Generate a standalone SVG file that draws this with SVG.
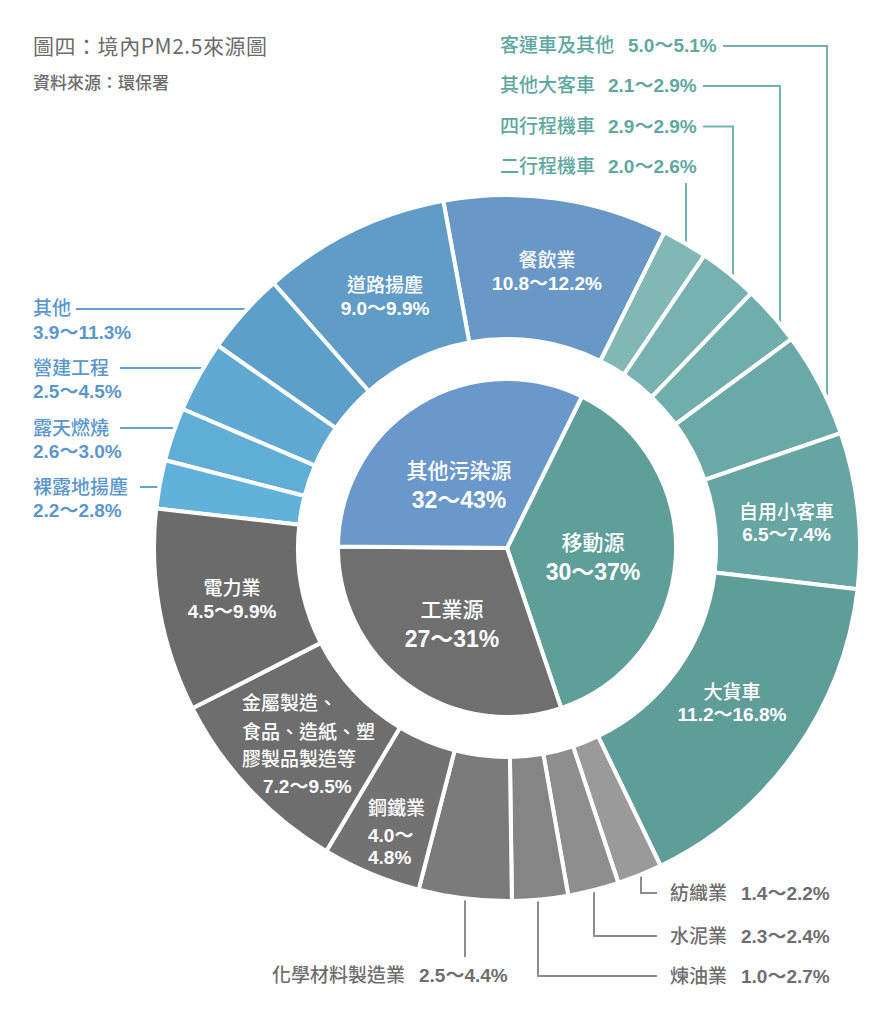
<svg xmlns="http://www.w3.org/2000/svg" width="890" height="1024" viewBox="0 0 890 1024">
<style>
  .seg { stroke: #ffffff; stroke-width: 4; stroke-linejoin: round; }
  .cjk { font-family: "Noto Sans CJK TC", "Noto Sans CJK SC", sans-serif; font-weight: 500; }
  .num { font-family: "Liberation Sans", "Noto Sans CJK TC", sans-serif; font-weight: 700; }
  .w { fill: #ffffff; font-size: 19px; }
  .teal { fill: #5fa8a1; font-size: 19px; }
  .blue { fill: #5b97cc; font-size: 19px; }
  .gray { fill: #6e6e6e; font-size: 19px; }
  .pc { fill: #ffffff; font-size: 21px; }
  .pn { fill: #ffffff; font-size: 23px; }
  .mid { text-anchor: middle; }
  .lt { fill: none; stroke: #72b5af; stroke-width: 2; }
  .lb { fill: none; stroke: #64a2d4; stroke-width: 2; }
  .lg { fill: none; stroke: #8c8c8c; stroke-width: 2; }
</style>

<g id="title">
  <text x="33" y="54" font-family="Noto Sans CJK TC, Noto Sans CJK SC, sans-serif" font-weight="400" font-size="21" fill="#6b6b6b" textLength="234" lengthAdjust="spacing">圖四：境內PM2.5來源圖</text>
  <text class="cjk" x="33" y="88.5" font-size="17" fill="#6b6b6b">資料來源：環保署</text>
</g>

<g id="connectors">
  <path class="lt" d="M 723 46 H 827 V 403"/>
  <path class="lt" d="M 703 86 H 780 V 327"/>
  <path class="lt" d="M 703 126.5 H 733 V 280"/>
  <path class="lt" d="M 686 183 V 247"/>
  <path class="lb" d="M 76 309 H 251"/>
  <path class="lb" d="M 120 368 H 207"/>
  <path class="lb" d="M 120 428 H 179"/>
  <path class="lb" d="M 140 487 H 163"/>
  <path class="lg" d="M 641 871 V 893 H 657"/>
  <path class="lg" d="M 594 887 V 936 H 657"/>
  <path class="lg" d="M 538 896 V 976 H 657"/>
  <path class="lg" d="M 465 895 V 957"/>
</g>

<!-- outer ring: other sources (blue) -->
<g id="seg-restaurant">
  <path class="seg" fill="#6a98c6" d="M 443.3 200.8 A 353 353 0 0 1 664.5 232.1 L 600.3 361.0 A 209 209 0 0 0 469.3 342.4 Z"/>
  <text class="cjk w mid" x="547" y="267">餐飲業</text>
  <text class="num w mid" x="547" y="290">10.8～12.2%</text>
</g>
<g id="seg-road-dust">
  <path class="seg" fill="#619cc7" d="M 273.6 283.2 A 353 353 0 0 1 443.3 200.8 L 469.3 342.4 A 209 209 0 0 0 368.8 391.2 Z"/>
  <text class="cjk w mid" x="385" y="292">道路揚塵</text>
  <text class="num w mid" x="385" y="315">9.0～9.9%</text>
</g>
<g id="seg-other">
  <path class="seg" fill="#5c9fc9" d="M 217.8 345.5 A 353 353 0 0 1 273.6 283.2 L 368.8 391.2 A 209 209 0 0 0 335.8 428.1 Z"/>
  <text class="cjk blue" x="33" y="315">其他</text>
  <text class="num blue" x="33" y="339">3.9～11.3%</text>
</g>
<g id="seg-construction">
  <path class="seg" fill="#5fa9d2" d="M 182.6 409.0 A 353 353 0 0 1 217.8 345.5 L 335.8 428.1 A 209 209 0 0 0 314.9 465.7 Z"/>
  <text class="cjk blue" x="33" y="375">營建工程</text>
  <text class="num blue" x="33" y="398">2.5～4.5%</text>
</g>
<g id="seg-open-burning">
  <path class="seg" fill="#60aed6" d="M 165.1 460.2 A 353 353 0 0 1 182.6 409.0 L 314.9 465.7 A 209 209 0 0 0 304.6 496.0 Z"/>
  <text class="cjk blue" x="33" y="435">露天燃燒</text>
  <text class="num blue" x="33" y="458">2.6～3.0%</text>
</g>
<g id="seg-bare-land">
  <path class="seg" fill="#61b2da" d="M 156.2 508.6 A 353 353 0 0 1 165.1 460.2 L 304.6 496.0 A 209 209 0 0 0 299.3 524.7 Z"/>
  <text class="cjk blue" x="33" y="493.5">裸露地揚塵</text>
  <text class="num blue" x="33" y="516.5">2.2～2.8%</text>
</g>

<!-- outer ring: mobile sources (teal) -->
<g id="seg-two-stroke">
  <path class="seg" fill="#80b8b6" d="M 664.5 232.1 A 353 353 0 0 1 704.4 255.4 L 623.9 374.7 A 209 209 0 0 0 600.3 361.0 Z"/>
  <text class="cjk teal" x="500" y="173">二行程機車</text>
  <text class="num teal" x="608" y="173">2.0～2.6%</text>
</g>
<g id="seg-four-stroke">
  <path class="seg" fill="#77b2b0" d="M 704.4 255.4 A 353 353 0 0 1 751.3 293.2 L 651.6 397.1 A 209 209 0 0 0 623.9 374.7 Z"/>
  <text class="cjk teal" x="500" y="133">四行程機車</text>
  <text class="num teal" x="608" y="133">2.9～2.9%</text>
</g>
<g id="seg-other-bus">
  <path class="seg" fill="#70aeac" d="M 751.3 293.2 A 353 353 0 0 1 791.5 339.0 L 675.4 424.3 A 209 209 0 0 0 651.6 397.1 Z"/>
  <text class="cjk teal" x="500" y="92">其他大客車</text>
  <text class="num teal" x="608" y="92">2.1～2.9%</text>
</g>
<g id="seg-coach">
  <path class="seg" fill="#6aa9a7" d="M 791.5 339.0 A 353 353 0 0 1 840.8 433.1 L 704.6 479.9 A 209 209 0 0 0 675.4 424.3 Z"/>
  <text class="cjk teal" x="500" y="52">客運車及其他</text>
  <text class="num teal" x="628" y="52">5.0～5.1%</text>
</g>
<g id="seg-car">
  <path class="seg" fill="#67a5a2" d="M 840.8 433.1 A 353 353 0 0 1 857.6 589.2 L 714.6 572.4 A 209 209 0 0 0 704.6 479.9 Z"/>
  <text class="cjk w mid" x="786.5" y="519">自用小客車</text>
  <text class="num w mid" x="786.5" y="541">6.5～7.4%</text>
</g>
<g id="seg-truck">
  <path class="seg" fill="#5f9d99" d="M 857.6 589.2 A 353 353 0 0 1 660.6 865.8 L 598.0 736.2 A 209 209 0 0 0 714.6 572.4 Z"/>
  <text class="cjk w mid" x="732" y="699">大貨車</text>
  <text class="num w mid" x="732" y="721">11.2～16.8%</text>
</g>

<!-- outer ring: industrial sources (gray) -->
<g id="seg-textile">
  <path class="seg" fill="#9a9a9a" d="M 660.6 865.8 A 353 353 0 0 1 618.4 883.0 L 573.0 746.3 A 209 209 0 0 0 598.0 736.2 Z"/>
  <text class="cjk gray" x="670" y="900">紡織業</text>
  <text class="num gray" x="741" y="900">1.4～2.2%</text>
</g>
<g id="seg-cement">
  <path class="seg" fill="#8e8e8e" d="M 618.4 883.0 A 353 353 0 0 1 568.3 895.6 L 543.3 753.8 A 209 209 0 0 0 573.0 746.3 Z"/>
  <text class="cjk gray" x="670" y="943">水泥業</text>
  <text class="num gray" x="741" y="943">2.3～2.4%</text>
</g>
<g id="seg-refinery">
  <path class="seg" fill="#858585" d="M 568.3 895.6 A 353 353 0 0 1 511.9 901.0 L 509.9 757.0 A 209 209 0 0 0 543.3 753.8 Z"/>
  <text class="cjk gray" x="670" y="983">煉油業</text>
  <text class="num gray" x="741" y="983">1.0～2.7%</text>
</g>
<g id="seg-chemical">
  <path class="seg" fill="#7b7b7b" d="M 511.9 901.0 A 353 353 0 0 1 418.6 889.7 L 454.7 750.3 A 209 209 0 0 0 509.9 757.0 Z"/>
  <text class="cjk gray" x="272" y="982">化學材料製造業</text>
  <text class="num gray" x="419" y="982">2.5～4.4%</text>
</g>
<g id="seg-steel">
  <path class="seg" fill="#727272" d="M 418.6 889.7 A 353 353 0 0 1 326.3 851.2 L 400.0 727.5 A 209 209 0 0 0 454.7 750.3 Z"/>
  <text class="cjk w" x="368" y="815">鋼鐵業</text>
  <text class="num w" x="368" y="842">4.0～</text>
  <text class="num w" x="368" y="863.5">4.8%</text>
</g>
<g id="seg-metal">
  <path class="seg" fill="#6e6e6e" d="M 326.3 851.2 A 353 353 0 0 1 192.5 708.3 L 320.8 642.9 A 209 209 0 0 0 400.0 727.5 Z"/>
  <text class="cjk w" x="242" y="710">金屬製造、</text>
  <text class="cjk w" x="242" y="738.5">食品、造紙、塑</text>
  <text class="cjk w" x="242" y="765.5">膠製品製造等</text>
  <text class="num w" x="263" y="793">7.2～9.5%</text>
</g>
<g id="seg-power">
  <path class="seg" fill="#6b6b6b" d="M 192.5 708.3 A 353 353 0 0 1 156.2 508.6 L 299.3 524.7 A 209 209 0 0 0 320.8 642.9 Z"/>
  <text class="cjk w mid" x="232" y="594.5">電力業</text>
  <text class="num w mid" x="232" y="618">4.5～9.9%</text>
</g>

<!-- inner pie -->
<g id="pie-mobile">
  <path class="seg" fill="#5f9f99" d="M 507 548 L 581.9 396.5 A 169 169 0 0 1 561.2 708.1 Z"/>
  <text class="cjk pc mid" x="593" y="550">移動源</text>
  <text class="num pn mid" x="593" y="580">30～37%</text>
</g>
<g id="pie-industrial">
  <path class="seg" fill="#6f6f6f" d="M 507 548 L 561.2 708.1 A 169 169 0 0 1 338 546.5 Z"/>
  <text class="cjk pc mid" x="452" y="617">工業源</text>
  <text class="num pn mid" x="452" y="647">27～31%</text>
</g>
<g id="pie-other">
  <path class="seg" fill="#6b98ca" d="M 507 548 L 338 546.5 A 169 169 0 0 1 581.9 396.5 Z"/>
  <text class="cjk pc mid" x="459" y="478">其他污染源</text>
  <text class="num pn mid" x="459" y="508">32～43%</text>
</g>
</svg>
